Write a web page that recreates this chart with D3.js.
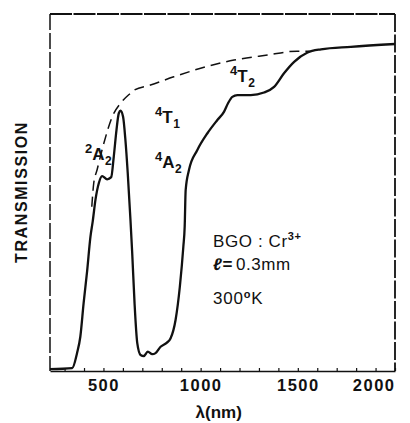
<!DOCTYPE html>
<html>
<head>
<meta charset="utf-8">
<script src="https://cdn.jsdelivr.net/npm/d3@7"></script>
<style>
    body { margin: 0; background: #fff; }
    text { font-family: "Liberation Sans", Arial, sans-serif; fill: #111; }
</style>
</head>
<body>
<div id="chart"></div>
<script>
// solid curve: measured transmission of BGO:Cr3+
var solidWavelength = [225, 339, 364, 381, 398, 416, 433, 445, 459, 476, 493, 519, 540, 553, 567, 579, 588, 601, 613, 625, 639, 648, 660, 674, 691, 708, 728, 751, 768, 794, 825, 845, 871, 893, 911, 918, 923, 940, 983, 1035, 1086, 1120, 1141, 1163, 1189, 1258, 1326, 1378, 1429, 1481, 1550, 1619, 1773, 2000];
var solidValue = [0.5, 0.8, 5, 9.6, 19, 28, 37.6, 42, 48, 52.6, 54.6, 53.7, 54.3, 60, 67.5, 72.2, 72.9, 71.2, 64.7, 55.4, 42.3, 33, 19, 7.8, 4.5, 4.2, 5.4, 4.7, 5, 6.8, 7.9, 9.1, 14.3, 23.6, 34.8, 40.5, 50.7, 56.3, 61.9, 66.6, 70.3, 72.6, 75, 76.8, 77.3, 77.3, 78, 79.6, 83.4, 86.6, 89.2, 90.1, 90.8, 91.6];

// dashed curve: undoped reference
var dashedWavelength = [440, 450, 467, 502, 545, 588, 639, 656, 742, 862, 1000, 1172, 1344, 1497, 1560];
var dashedValue = [46, 52.6, 56.3, 63.8, 71.2, 75, 77.8, 78.6, 80.1, 82.4, 84.8, 87.1, 88.5, 89.6, 89.6];

var tickValues = [300, 400, 500, 600, 700, 800, 900, 1000, 1100, 1200, 1300, 1400, 1500, 1600, 1700, 1800, 1900, 2000];
var tickLabels = [500, 1000, 1500, 2000];

TransmissionChart = function(_parentElement){
    vis = this;

    this.parentElement = _parentElement;
    this.svgWidth = 410;
    this.svgHeight = 423;
    this.margin = { top: 14, right: 15, bottom: 52, left: 50 };
    this.width = vis.svgWidth - vis.margin.left - vis.margin.right;
    this.height = vis.svgHeight - vis.margin.top - vis.margin.bottom;

    this.initVis();
};

TransmissionChart.prototype.initVis = function() {
    vis = this;

    vis.svg = d3.select("#" + vis.parentElement).append("svg")
        .attr("width", vis.svgWidth)
        .attr("height", vis.svgHeight)
        .append("g")
        .attr("transform", "translate(" + vis.margin.left + "," + vis.margin.top + ")");

    vis.x = d3.scaleLinear()
        .domain([225, 2000])
        .range([0, vis.width]);

    vis.y = d3.scaleLinear()
        .domain([0, 100])
        .range([vis.height, 0]);

    vis.drawFrame();
    vis.drawCurves();
    vis.drawLabels();
};

TransmissionChart.prototype.drawFrame = function() {
    vis = this;

    // the scanned box: every edge a little broken
    var edges = [
        { x1: 0, y1: 0, x2: vis.width, y2: 0, w: 2, dash: "22,1.5" },
        { x1: vis.width, y1: 0, x2: vis.width, y2: vis.height, w: 1.8, dash: "18,2.5" },
        { x1: 0, y1: 0, x2: 0, y2: vis.height, w: 1.5, dash: "16,3" }
    ];
    vis.svg.selectAll(".edge")
        .data(edges)
        .enter().append("line")
        .attr("class", "edge")
        .attr("x1", function(d) { return d.x1; })
        .attr("y1", function(d) { return d.y1; })
        .attr("x2", function(d) { return d.x2; })
        .attr("y2", function(d) { return d.y2; })
        .attr("stroke", "#111")
        .attr("stroke-width", function(d) { return d.w; })
        .attr("stroke-dasharray", function(d) { return d.dash; });

    var xAxis = d3.axisBottom(vis.x)
        .tickValues(tickValues)
        .tickSize(-3)
        .tickSizeOuter(0)
        .tickPadding(8)
        .tickFormat(function(d) { return tickLabels.indexOf(d) >= 0 ? d : ""; });

    var g = vis.svg.append("g")
        .attr("transform", "translate(0," + vis.height + ")")
        .call(xAxis);

    g.select(".domain").attr("stroke", "#111").attr("stroke-width", 1.6);
    g.selectAll(".tick line").attr("stroke", "#111").attr("stroke-width", 1.2);
    g.selectAll(".tick text")
        .attr("font-size", 16.5)
        .attr("font-weight", "bold")
        .attr("letter-spacing", 1.5)
        .attr("font-family", "Liberation Sans, Arial, sans-serif")
        .attr("fill", "#111");
    g.selectAll(".tick text")
        .filter(function(d) { return d === 2000; })
        .attr("text-anchor", "end");
};

TransmissionChart.prototype.drawCurves = function() {
    vis = this;

    var line = d3.line()
        .x(function(d) { return vis.x(d[0]); })
        .y(function(d) { return vis.y(d[1]); })
        .curve(d3.curveMonotoneX);

    var dashed = d3.zip(dashedWavelength, dashedValue);
    var solid = d3.zip(solidWavelength, solidValue);

    vis.svg.append("path")
        .datum(dashed)
        .attr("d", line)
        .attr("fill", "none")
        .attr("stroke", "#111")
        .attr("stroke-width", 1.5)
        .attr("stroke-dasharray", "10,6");

    vis.svg.append("path")
        .datum(solid)
        .attr("d", line)
        .attr("fill", "none")
        .attr("stroke", "#111")
        .attr("stroke-width", 2.3)
        .attr("stroke-linejoin", "round");
};

TransmissionChart.prototype.addTerm = function(x, y, sup, main, sub) {
    vis = this;

    var t = vis.svg.append("text")
        .attr("x", x - vis.margin.left)
        .attr("y", y - vis.margin.top)
        .attr("font-weight", "bold");
    t.append("tspan").attr("font-size", 13).attr("dy", -7).text(sup);
    t.append("tspan").attr("font-size", 17).attr("dy", 7).text(main);
    t.append("tspan").attr("font-size", 12).attr("dy", 5).attr("dx", 0.5).text(sub);
};

TransmissionChart.prototype.drawLabels = function() {
    vis = this;

    vis.addTerm(85, 160, "2", "A", "2");
    vis.addTerm(155, 123, "4", "T", "1");
    vis.addTerm(155, 168, "4", "A", "2");
    vis.addTerm(230, 82, "4", "T", "2");

    var left = 213 - vis.margin.left;

    var t1 = vis.svg.append("text")
        .attr("x", left).attr("y", 247 - vis.margin.top)
        .attr("font-size", 17).attr("letter-spacing", 0.6);
    t1.append("tspan").text("BGO : Cr");
    t1.append("tspan").attr("dy", -7).attr("font-size", 11).attr("font-weight", "bold").text("3+");

    var t2 = vis.svg.append("text")
        .attr("x", left).attr("y", 270 - vis.margin.top)
        .attr("font-size", 17).attr("letter-spacing", 0.6);
    t2.append("tspan").attr("font-weight", "bold").attr("font-style", "italic").text("\u2113");
    t2.append("tspan").attr("font-weight", "bold").text("=");
    t2.append("tspan").attr("dx", 3).text("0.3mm");

    var t3 = vis.svg.append("text")
        .attr("x", left).attr("y", 304 - vis.margin.top)
        .attr("font-size", 17).attr("letter-spacing", 0.8);
    t3.append("tspan").text("300");
    t3.append("tspan").attr("dy", -6).attr("font-size", 11).attr("font-weight", "bold").text("o");
    t3.append("tspan").attr("dy", 6).text("K");

    // axis titles
    vis.svg.append("text")
        .attr("transform", "translate(" + (27 - vis.margin.left) + "," + (192 - vis.margin.top) + ") rotate(-90)")
        .attr("text-anchor", "middle")
        .attr("font-size", 16)
        .attr("font-weight", "bold")
        .attr("letter-spacing", 1.6)
        .text("TRANSMISSION");

    vis.svg.append("text")
        .attr("x", vis.x(1093))
        .attr("y", 418 - vis.margin.top)
        .attr("text-anchor", "middle")
        .attr("font-size", 17)
        .attr("font-weight", "bold")
        .text("\u03bb(nm)");
};

new TransmissionChart("chart");
</script>
</body>
</html>
